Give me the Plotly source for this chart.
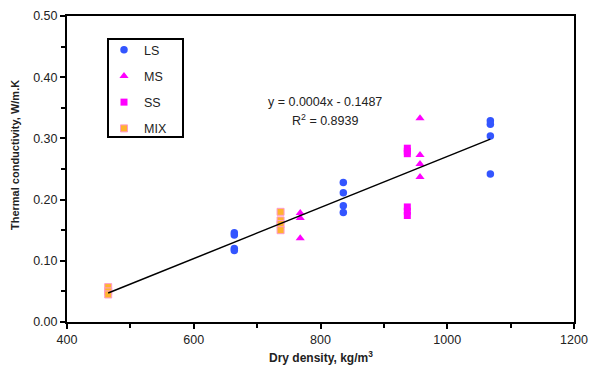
import numpy as np
import plotly.graph_objects as go

# ---- data ----
ls_x = [664, 664, 664, 664, 836, 836, 836, 836, 1068, 1068, 1068, 1068]
ls_y = [0.146, 0.142, 0.120, 0.117, 0.228, 0.211, 0.190, 0.179, 0.329, 0.323, 0.304, 0.242]

ms_x = [768, 768, 768, 957, 957, 957, 957]
ms_y = [0.178, 0.170, 0.137, 0.333, 0.273, 0.258, 0.237]

ss_x = [937, 937, 937, 937, 937, 937]
ss_y = [0.284, 0.279, 0.275, 0.188, 0.181, 0.174]

mix_x = [465, 465, 465, 737, 737, 737, 737]
mix_y = [0.057, 0.050, 0.045, 0.180, 0.166, 0.160, 0.150]

x_ticks = [400, 600, 800, 1000, 1200]
y_ticks = [0.00, 0.10, 0.20, 0.30, 0.40, 0.50]

FONT = "Liberation Sans, Arial, sans-serif"
TXT = "#222"

all_x = np.array(ls_x + ms_x + ss_x + mix_x, dtype=float)
all_y = np.array(ls_y + ms_y + ss_y + mix_y, dtype=float)
slope, intercept = np.polyfit(all_x, all_y, 1)
fit_x = np.array([all_x.min(), all_x.max()])
fit_y = slope * fit_x + intercept

fig = go.Figure()
fig.add_trace(go.Scatter(x=ls_x, y=ls_y, mode="markers", name="LS", legendgroup="a",
                         marker=dict(symbol="circle", size=7.5, color="#3355FF")))
fig.add_trace(go.Scatter(x=ms_x, y=ms_y, mode="markers", name="MS", legendgroup="b",
                         marker=dict(symbol="triangle-up", size=8, color="#FF00FF")))
fig.add_trace(go.Scatter(x=ss_x, y=ss_y, mode="markers", name="SS", legendgroup="c",
                         marker=dict(symbol="square", size=7, color="#FF00FF")))
fig.add_trace(go.Scatter(x=mix_x, y=mix_y, mode="markers", name="MIX", legendgroup="d",
                         marker=dict(symbol="square", size=7, color="#FFB32E",
                                     line=dict(color="#FF99CC", width=1))))
fig.add_trace(go.Scatter(x=fit_x, y=fit_y, mode="lines", showlegend=False,
                         line=dict(color="black", width=1.5)))

# plot area in px: x 67..574, y 16..322 (306 tall, 507 wide)
def px(xp):
    return (xp - 67) / 507.0

def py(yp):
    return (322 - yp) / 306.0

fig.update_layout(
    width=591, height=372,
    margin=dict(l=67, r=17, t=16, b=50, autoexpand=False),
    paper_bgcolor="white", plot_bgcolor="white",
    font=dict(family=FONT, size=12, color=TXT),
    showlegend=True,
    legend=dict(x=px(104), y=py(35), xanchor="left", yanchor="top",
                borderwidth=0, bgcolor="rgba(0,0,0,0)",
                traceorder="grouped", tracegroupgap=7,
                font=dict(family=FONT, size=12.5, color=TXT)),
    shapes=[dict(type="rect", xref="paper", yref="paper",
                 x0=px(108), x1=px(183), y0=py(137), y1=py(39),
                 line=dict(color="black", width=2), layer="below")],
    xaxis=dict(range=[400, 1200], tickvals=x_ticks, ticktext=[str(v) for v in x_ticks],
               automargin=False,
               showgrid=False, zeroline=False, showline=True, linecolor="black", linewidth=2,
               mirror=True, ticks="outside", ticklen=5, tickwidth=1.5, tickcolor="black",
               minor=dict(dtick=100, ticks="outside", ticklen=4, tickwidth=1.5, tickcolor="black"),
               tickfont=dict(size=12.5, family=FONT, color=TXT)),
    yaxis=dict(range=[0, 0.5], tickvals=y_ticks, ticktext=["%.2f" % v for v in y_ticks],
               automargin=False,
               showgrid=False, zeroline=False, showline=True, linecolor="black", linewidth=2,
               mirror=True, ticks="outside", ticklen=5, tickwidth=1.5, tickcolor="black",
               minor=dict(dtick=0.05, ticks="outside", ticklen=4, tickwidth=1.5, tickcolor="black"),
               tickfont=dict(size=12.5, family=FONT, color=TXT)),
    annotations=[
        dict(text="<b>Dry density, kg/m<sup>3</sup></b>", x=0.5, y=py(357), xref="paper", yref="paper",
             showarrow=False, xanchor="center", yanchor="middle", font=dict(size=12, family=FONT, color=TXT)),
        dict(text="<b>Thermal conductivity, W/m.K</b>", x=px(15), y=py(155), xref="paper", yref="paper",
             showarrow=False, textangle=-90, xanchor="center", yanchor="middle",
             font=dict(size=11, family=FONT, color=TXT)),
        dict(text="y = 0.0004x - 0.1487", x=px(325), y=py(102), xref="paper", yref="paper",
             showarrow=False, xanchor="center", yanchor="middle", font=dict(size=12.5, family=FONT, color=TXT)),
        dict(text="R<sup>2</sup> = 0.8939", x=px(325), y=py(120), xref="paper", yref="paper",
             showarrow=False, xanchor="center", yanchor="middle", font=dict(size=12.5, family=FONT, color=TXT)),
    ],
)

fig.write_html("out.html")
